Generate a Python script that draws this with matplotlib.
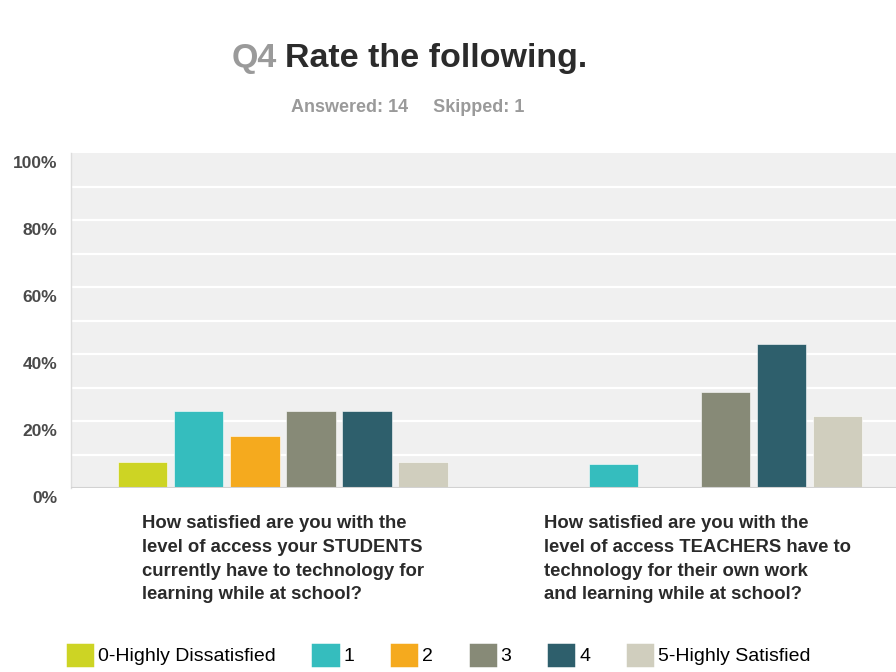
import matplotlib
matplotlib.use('Agg')
import matplotlib.pyplot as plt
import matplotlib.transforms as mtransforms
from matplotlib.patches import Patch
import numpy as np

# ── Survey data ─────────────────────────────────────────────────────────
questions = [
    "How satisfied are you with the\nlevel of access your STUDENTS\ncurrently have to technology for\nlearning while at school?",
    "How satisfied are you with the\nlevel of access TEACHERS have to\ntechnology for their own work\nand learning while at school?",
]
ratings = ["0-Highly Dissatisfied", "1", "2", "3", "4", "5-Highly Satisfied"]
# percent of respondents per rating, one list per question
students_pct = [7.69, 23.08, 15.38, 23.08, 23.08, 7.69]
teachers_pct = [0.0, 7.14, 0.0, 28.57, 42.86, 21.43]
yticks = [0, 20, 40, 60, 80, 100]
ytick_labels = ["0%", "20%", "40%", "60%", "80%", "100%"]

colors = ['#cdd424', '#35bdbe', '#f5aa1e', '#878a77', '#2e5f6c', '#d0cebe']

BOLD = ['Liberation Sans', 'DejaVu Sans']

fig = plt.figure(figsize=(8.96, 6.72), dpi=100)
ax = fig.add_axes([71 / 896, 1 - 488 / 672, 834 / 896, 335 / 672])
ax.set_facecolor('#f0f0f0')

x = np.arange(len(questions))
width = 0.12
step = 0.135
series = np.array([students_pct, teachers_pct]).T
for i, (lab, col) in enumerate(zip(ratings, colors)):
    ax.bar(x + (i - 2.5) * step, series[i], width, color=col,
           edgecolor='#ffffff', linewidth=0.4, label=lab, zorder=3)

ax.set_xlim(-0.51, 1.5)
ax.set_ylim(0, 100)

# white grid every 10%
for g in range(10, 100, 10):
    ax.axhline(g, color='white', linewidth=1.6, zorder=1)
ax.axhline(0, color='#d2d2d2', linewidth=1.5, zorder=4)

for s in ['top', 'right', 'bottom']:
    ax.spines[s].set_visible(False)
ax.spines['left'].set_color('#dddddd')
ax.spines['left'].set_linewidth(1)

ax.set_yticks(yticks)
ax.set_yticklabels(ytick_labels, fontsize=12.5, fontweight='bold',
                   color='#4a4a4a', family=BOLD)
ax.tick_params(axis='y', length=0, pad=10)
offset = mtransforms.ScaledTranslation(0, -9 / 100, fig.dpi_scale_trans)
for t in ax.get_yticklabels():
    t.set_transform(t.get_transform() + offset)

ax.set_xticks(x)
ax.set_xticklabels(questions, fontsize=13.3, fontweight='bold', color='#2a2a2a',
                   family=BOLD, linespacing=1.52, multialignment='left')
ax.tick_params(axis='x', length=0, pad=19.5)

# title
fig.text(277 / 896, 1 - 58 / 672, "Q4", fontsize=24.5, fontweight='bold',
         color='#9a9a9a', ha='right', va='center', family=BOLD)
fig.text(285 / 896, 1 - 58 / 672, "Rate the following.", fontsize=24.5,
         fontweight='bold', color='#2b2b2b', ha='left', va='center', family=BOLD)
fig.text(408 / 896, 1 - 108 / 672, "Answered: 14     Skipped: 1", fontsize=13,
         fontweight='bold', color='#9a9a9a', ha='center', va='center', family=BOLD)

handles = [Patch(facecolor=c, edgecolor=c, linewidth=2.5, joinstyle='round',
                 label=l) for l, c in zip(ratings, colors)]
fig.legend(handles=handles, loc='center left', bbox_to_anchor=(68 / 896, 1 - 655 / 672),
           ncol=6, frameon=False, handlelength=1.25, handleheight=1.25,
           handletextpad=0.3, columnspacing=1.93, borderaxespad=0, borderpad=0,
           prop={'family': BOLD, 'size': 14})

fig.savefig('out.png', dpi=100)
